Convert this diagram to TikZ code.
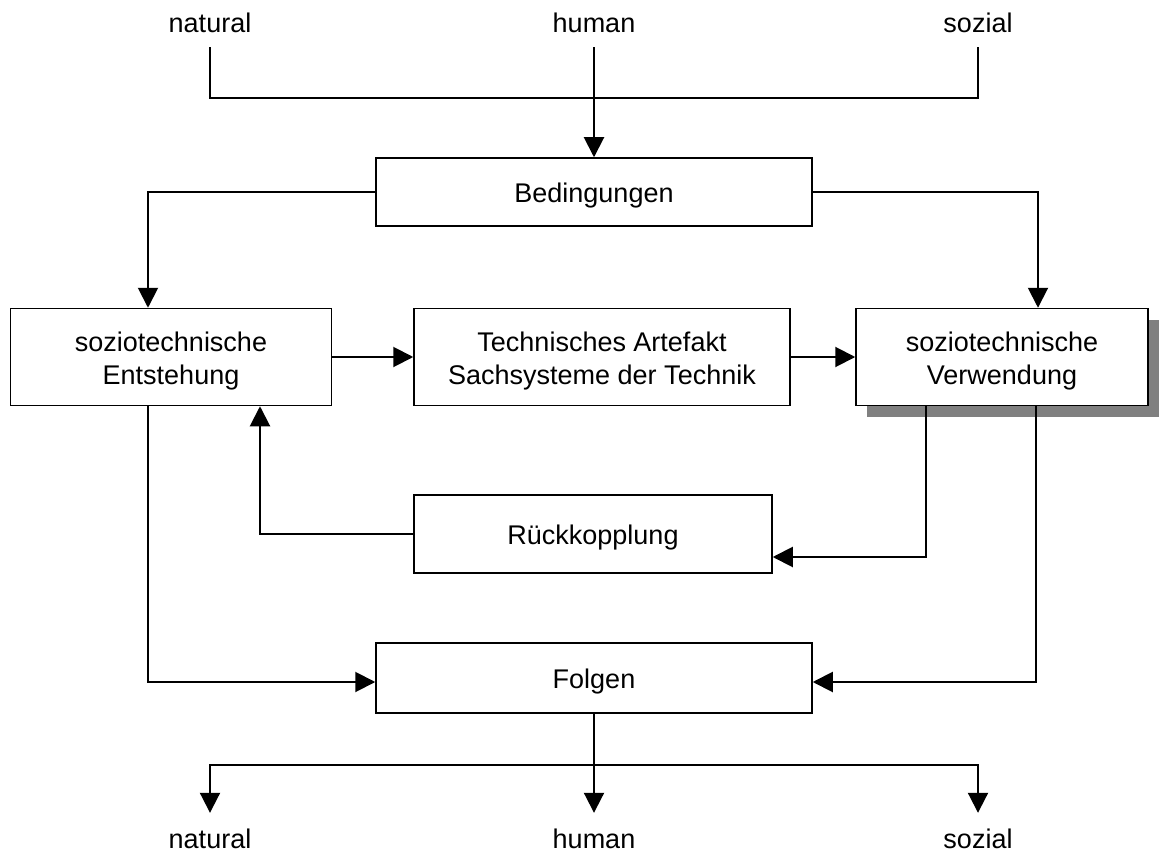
\documentclass[tikz,border=0pt]{standalone}
\usepackage{fontspec}
\setmainfont{Liberation Sans}
\usetikzlibrary{arrows.meta,shadows}
\begin{document}
\begin{tikzpicture}[x=1pt,y=-1pt,
  every node/.style={font=\fontsize{27}{33}\selectfont},
  stagebox/.style={draw, line width=1.5pt, inner sep=0pt},
  boxtext/.style={align=center, inner sep=0pt, yshift=-4pt},
  lbl/.style={inner sep=0pt, anchor=base, text height=20pt, text depth=0pt},
  plain/.style={line width=2pt},
  arr/.style={line width=2pt, -{Triangle[length=20pt,width=20pt]}}]
\useasboundingbox (0,0) rectangle (1165,853);

% input labels
\node[lbl] (nt) at (210,33) {natural};
\node[lbl] (ht) at (594,33) {human};
\node[lbl] (st) at (978,33) {sozial};

% output labels
\node[lbl] (nb) at (210,848) {natural};
\node[lbl] (hb) at (594,848) {human};
\node[lbl] (sb) at (978,848) {sozial};

% stages
\node[stagebox, minimum width=436pt, minimum height=68pt,
      label={[boxtext]center:Bedingungen}] (Bed) at (594,192) {};
\node[stagebox, minimum width=321pt, minimum height=97pt,
      label={[boxtext]center:{soziotechnische\\Entstehung}}] (Ent) at (171,357) {};
\node[stagebox, minimum width=376pt, minimum height=97pt,
      label={[boxtext]center:{Technisches Artefakt\\Sachsysteme der Technik}}] (Tech) at (602,357) {};
\node[stagebox, fill=white, minimum width=292pt, minimum height=97pt,
      drop shadow={shadow xshift=11pt, shadow yshift=-11pt, fill=black!50, opacity=1},
      label={[boxtext]center:{soziotechnische\\Verwendung}}] (Verw) at (1002,357) {};
\node[stagebox, minimum width=358pt, minimum height=78pt,
      label={[boxtext]center:Rückkopplung}] (Rue) at (593,534) {};
\node[stagebox, minimum width=436pt, minimum height=70pt,
      label={[boxtext]center:Folgen}] (Fol) at (594,678) {};

% junctions
\coordinate (jt) at (594,98);
\coordinate (jb) at (594,765);

% inputs into conditions
\draw[plain] ([yshift=-14pt]nt.south) |- (jt) -| ([yshift=-14pt]st.south);
\draw[arr] ([yshift=-14pt]ht.south) -- (Bed.north);

% conditions to both socio-technical stages
\draw[arr] (Bed.west) -| ([xshift=-23pt]Ent.north);
\draw[arr] (Bed.east) -| ([xshift=36pt]Verw.north);

% main chain
\draw[arr] (Ent.east) -- (Tech.west);
\draw[arr] (Tech.east) -- (Verw.west);

% feedback loop
\draw[arr] ([xshift=-76pt]Verw.south) |- ([yshift=-23pt]Rue.east);
\draw[arr] (Rue.west) -| ([xshift=89pt]Ent.south);

% consequences
\draw[arr] ([xshift=-23pt]Ent.south) |- ([yshift=-4pt]Fol.west);
\draw[arr] ([xshift=34pt]Verw.south) |- ([yshift=-4pt]Fol.east);

% outputs of consequences
\draw[arr] (Fol.south) -- ([yshift=15pt]hb.north);
\draw[arr] (jb) -| ([yshift=15pt]nb.north);
\draw[arr] (jb) -| ([yshift=15pt]sb.north);
\end{tikzpicture}
\end{document}
